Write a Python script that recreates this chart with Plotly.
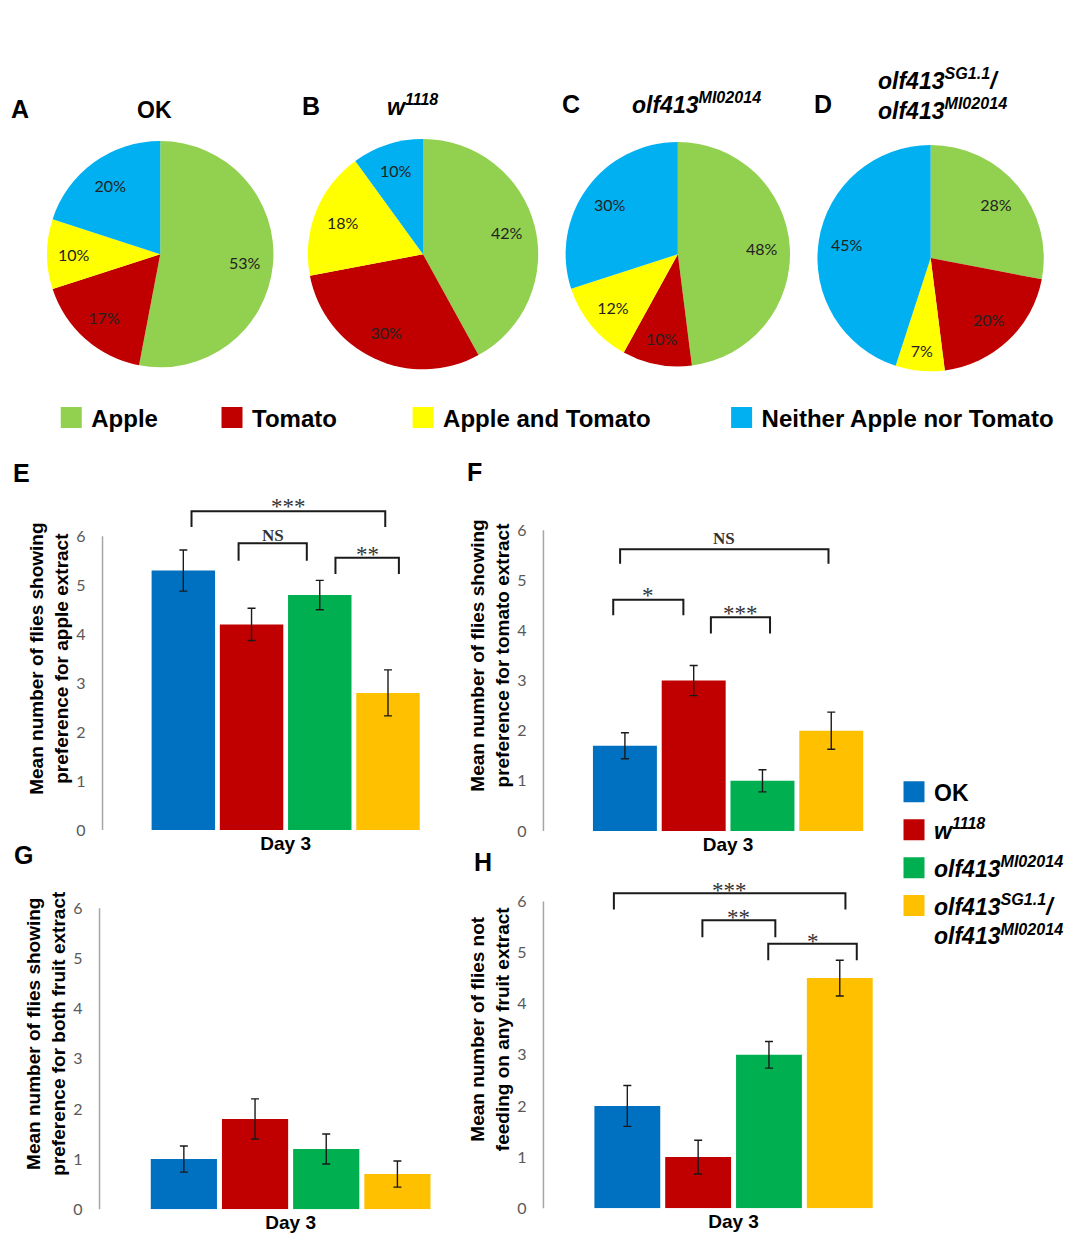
import plotly.graph_objects as go

W, H = 1069, 1243

# ---------------- data ----------------
pie_labels = ["Apple", "Tomato", "Apple and Tomato", "Neither Apple nor Tomato"]
pie_colors = ["#92D050", "#C00000", "#FFFF00", "#00B0F0"]
pie_ok = [53, 17, 10, 20]
pie_w1118 = [42, 30, 18, 10]
pie_olf_mi = [48, 10, 12, 30]
pie_olf_sg = [28, 20, 7, 45]

genotype_names = [
    "<b>OK</b>",
    "<b><i>w<sup>1118</sup></i></b>",
    "<b><i>olf413<sup>MI02014</sup></i></b>",
    "<b><i>olf413<sup>SG1.1</sup>/<br>olf413<sup>MI02014</sup></i></b>",
]
bar_colors = ["#0070C0", "#C00000", "#00B050", "#FFC000"]
day = ["Day 3"]

apple_mean = [5.3, 4.2, 4.8, 2.8]
apple_err = [0.42, 0.33, 0.30, 0.47]
tomato_mean = [1.7, 3.0, 1.0, 2.0]
tomato_err = [0.26, 0.30, 0.22, 0.37]
both_mean = [1.0, 1.8, 1.2, 0.7]
both_err = [0.26, 0.40, 0.30, 0.26]
neither_mean = [2.0, 1.0, 3.0, 4.5]
neither_err = [0.40, 0.33, 0.26, 0.35]

y_ticks = [0, 1, 2, 3, 4, 5, 6]

# significance brackets: (left bar pos, right bar pos, top, leg bottom, label, label y)
sig_apple = [(0.12, 2.96, 6.51, 6.19, "***", 6.71),
             (0.81, 1.81, 5.86, 5.50, "NS", 6.02),
             (2.23, 3.16, 5.56, 5.23, "**", 5.74)]
sig_tomato = [(-0.07, 2.96, 5.62, 5.33, "NS", 5.84),
              (-0.17, 0.85, 4.61, 4.30, "*", 4.79),
              (1.25, 2.11, 4.26, 3.94, "***", 4.43)]
sig_both = []
sig_neither = [(-0.19, 3.08, 6.16, 5.84, "***", 6.31),
               (1.06, 2.09, 5.63, 5.30, "**", 5.79),
               (1.99, 3.24, 5.17, 4.85, "*", 5.32)]

# ---------------- helpers ----------------
def X(px):
    return px / W

def Y(py):
    return 1 - py / H

BARGAP = 0.255
BARGROUPGAP = 0.07
YMAX = 7.0

def bar_pos(idx):
    slot = (1 - BARGAP) / 4
    return -(1 - BARGAP) / 2 + slot * (idx + 0.5)

fig = go.Figure()

# ---------------- pies ----------------
pie_sets = [
    (pie_ok, (47, 275), (142, 370)),
    (pie_w1118, (309, 541), (140, 372)),
    (pie_olf_mi, (568, 794), (143, 369)),
    (pie_olf_sg, (821, 1049), (146, 374)),
]
for vals, (x0, x1), (y0, y1) in pie_sets:
    dom = dict(x=[X(x0), X(x1)], y=[Y(y1), Y(y0)])
    # coloured slices
    fig.add_trace(go.Pie(
        labels=pie_labels, values=vals, sort=False, direction="clockwise",
        marker=dict(colors=pie_colors, line=dict(width=0)),
        textinfo="none", domain=dom, showlegend=False, hoverinfo="label+percent",
    ))
    # percentage labels placed in the outer ring
    fig.add_trace(go.Pie(
        labels=pie_labels, values=vals, sort=False, direction="clockwise", hole=0.5,
        marker=dict(colors=["rgba(0,0,0,0)"] * 4, line=dict(width=0)),
        texttemplate="%{value}%", textposition="inside",
        insidetextorientation="horizontal",
        insidetextfont=dict(family="Lato, Open Sans, sans-serif", size=16, color="#222222"),
        domain=dom, showlegend=False, hoverinfo="skip",
    ))

# ---------------- bar panels ----------------
panels = [
    ("x", "y", apple_mean, apple_err, sig_apple, (103, 471), 836, 49.3,
     "<b>Mean number of flies showing<br>preference for apple extract</b>"),
    ("x2", "y2", tomato_mean, tomato_err, sig_tomato, (546, 917), 837, 50.5,
     "<b>Mean number of flies showing<br>preference for tomato extract</b>"),
    ("x3", "y3", both_mean, both_err, sig_both, (100, 484), 1218, 50.5,
     "<b>Mean number of flies showing<br>preference for both fruit extract</b>"),
    ("x4", "y4", neither_mean, neither_err, sig_neither, (546, 928), 1217, 51.5,
     "<b>Mean number of flies not<br>feeding on any fruit extract</b>"),
]

layout_axes = {}
shapes = []
annotations = []

for k, (xa, ya, mean, err, sig, (xp0, xp1), y0px, ppu, ytitle) in enumerate(panels):
    for g in range(4):
        fig.add_trace(go.Bar(
            x=day, y=[mean[g]], name=genotype_names[g],
            marker=dict(color=bar_colors[g], line=dict(width=0)),
            error_y=dict(type="data", array=[err[g]], color="#1a1a1a", thickness=1.4, width=4),
            xaxis=xa, yaxis=ya, showlegend=False, offsetgroup=str(g),
        ))
    top_px = y0px - YMAX * ppu
    xname = "xaxis" if xa == "x" else "xaxis" + xa[1:]
    yname = "yaxis" if ya == "y" else "yaxis" + ya[1:]
    layout_axes[xname] = dict(
        domain=[X(xp0), X(xp1)], anchor=ya, type="category", range=[-0.5, 0.5],
        showline=False, showgrid=False, zeroline=False, ticks="",
        tickfont=dict(family="Liberation Sans, Arial", size=19, color="black", weight="bold"),
    )
    layout_axes[yname] = dict(
        domain=[Y(y0px), Y(top_px)], anchor=xa, range=[0, YMAX],
        tickvals=y_ticks, showline=False, showgrid=False, zeroline=False, ticks="",
        ticklabelstandoff=16,
        tickfont=dict(family="Lato, Open Sans, sans-serif", size=16, color="#595959"),
        title=dict(text=ytitle, standoff=2,
                   font=dict(family="Liberation Sans, Arial", size=19, color="black")),
    )
    shapes.append(dict(type="line", xref=f"{xa} domain", yref=f"{ya} domain",
                       x0=0, x1=0, y0=0, y1=max(y_ticks) / YMAX,
                       line=dict(color="#A6A6A6", width=1.5)))
    for (l, r, top, bot, lab, ly) in sig:
        xl, xr = bar_pos(l), bar_pos(r)
        shapes.append(dict(type="path", xref=xa, yref=ya,
                           path=f"M {xl} {bot} L {xl} {top} L {xr} {top} L {xr} {bot}",
                           line=dict(color="#1a1a1a", width=2)))
        is_star = "*" in lab
        annotations.append(dict(
            xref=xa, yref=ya, x=(xl + xr) / 2, y=ly, text=lab,
            xanchor="center", yanchor="middle",
            showarrow=False, yshift=-5 if is_star else 0,
            font=dict(family="Liberation Serif, Times New Roman, serif",
                      size=23 if is_star else 17, color="#333333",
                      weight="normal" if is_star else "bold"),
        ))

# ---------------- legends (dummy entries) ----------------
pie_leg_names = ["legend", "legend2", "legend3", "legend4"]
for i in range(4):
    fig.add_trace(go.Scatter(
        x=[None], y=[None], mode="markers", name=f"<b>{pie_labels[i]}</b>",
        marker=dict(symbol="square", size=16, color=pie_colors[i],
                    line=dict(color=pie_colors[i], width=5)),
        legend=pie_leg_names[i], showlegend=True, hoverinfo="skip",
        xaxis="x", yaxis="y",
    ))
for g in range(4):
    fig.add_trace(go.Scatter(
        x=[None], y=[None], mode="markers", name=genotype_names[g],
        marker=dict(symbol="square", size=16, color=bar_colors[g],
                    line=dict(color=bar_colors[g], width=5)),
        legend="legend5", legendgroup=f"g{g}", showlegend=True, hoverinfo="skip",
        xaxis="x", yaxis="y",
    ))

leg_font = dict(family="Liberation Sans, Arial", size=24, color="black")
pie_leg_x = [71.5, 233, 425, 745]
legends = {}
for i, nm in enumerate(pie_leg_names):
    legends[nm] = dict(x=X(pie_leg_x[i] - 20), y=Y(421), xanchor="left", yanchor="middle",
                       font=leg_font, bgcolor="rgba(0,0,0,0)", borderwidth=0,
                       orientation="h")
legends["legend5"] = dict(x=X(918.5 - 20), y=Y(776), xanchor="left", yanchor="top",
                          font=dict(family="Liberation Sans, Arial", size=23, color="black"),
                          bgcolor="rgba(0,0,0,0)", borderwidth=0, traceorder="grouped",
                          tracegroupgap=5, valign="top")

# ---------------- text annotations ----------------
letter_font = dict(family="Liberation Sans, Arial", size=25, color="black")
for lab, px, py in [("A", 20, 110), ("B", 312, 107), ("C", 574, 105), ("D", 827, 105),
                    ("E", 22, 476), ("F", 477, 475), ("G", 24, 861), ("H", 485, 868)]:
    annotations.append(dict(xref="paper", yref="paper", x=X(px), y=Y(py), text=f"<b>{lab}</b>",
                            showarrow=False, xanchor="center", yanchor="middle", font=letter_font))

title_font = dict(family="Liberation Sans, Arial", size=23, color="black")
for txt, px, py, xanc in [
    ("<b>OK</b>", 155, 111, "center"),
    ("<b><i>w<sup>1118</sup></i></b>", 414, 106, "center"),
    ("<b><i>olf413<sup>MI02014</sup></i></b>", 700, 104, "center"),
    ("<b><i>olf413<sup>SG1.1</sup>/<br>olf413<sup>MI02014</sup></i></b>", 880, 95, "left"),
]:
    annotations.append(dict(xref="paper", yref="paper", x=X(px), y=Y(py), text=txt,
                            xanchor=xanc, yanchor="middle", align="left",
                            showarrow=False, font=title_font))

fig.update_layout(
    width=W, height=H, margin=dict(l=0, r=0, t=0, b=0),
    paper_bgcolor="white", plot_bgcolor="rgba(0,0,0,0)",
    barmode="group", bargap=BARGAP, bargroupgap=BARGROUPGAP,
    shapes=shapes, annotations=annotations,
    **layout_axes, **legends,
)

fig.write_html("out.html", config={"displayModeBar": False},
               post_script="document.body.style.margin='0';")
